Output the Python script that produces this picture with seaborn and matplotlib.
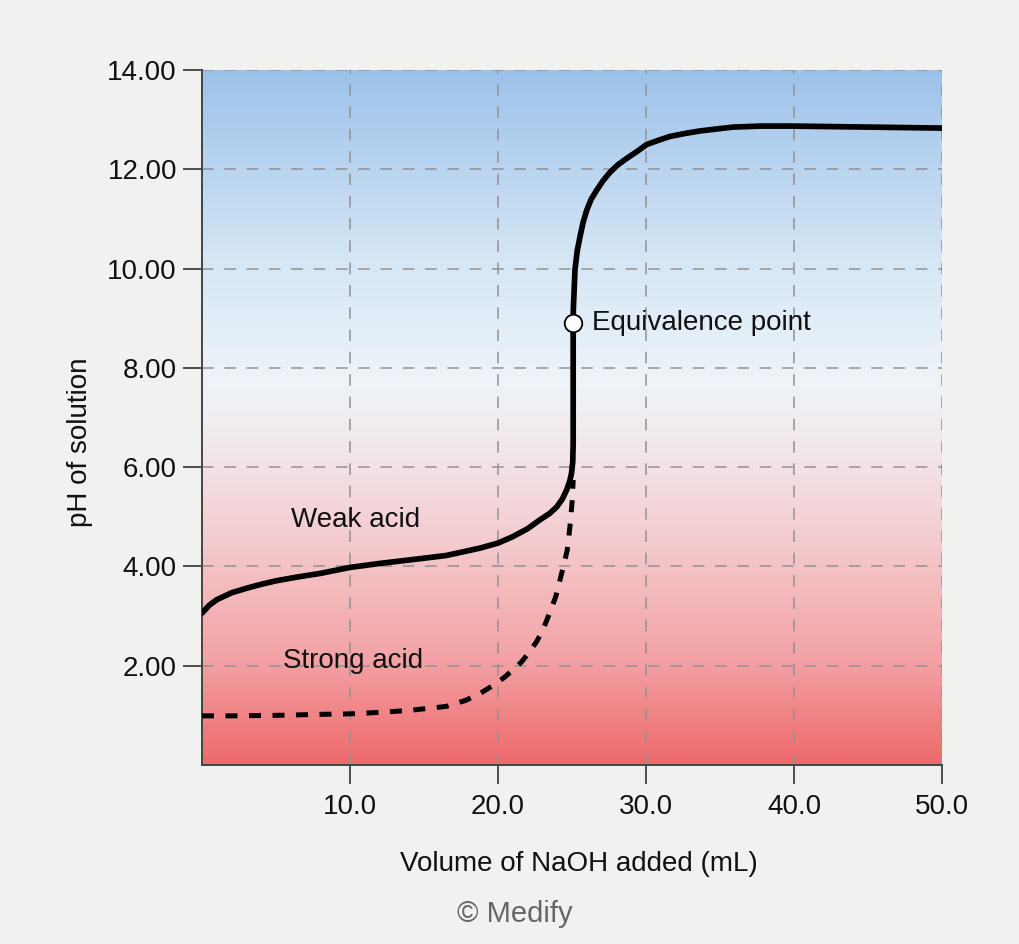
import numpy as np
import pandas as pd
import matplotlib
matplotlib.use("Agg")
import matplotlib.pyplot as plt
from matplotlib.colors import LinearSegmentedColormap
import seaborn as sns

# ---- data ----
weak_volume = [0.0, 0.5, 1.0, 2.0, 3.0, 4.0, 5.0, 6.5, 8.0, 10.0, 12.0, 14.0, 16.5, 18.8,
               20.0, 21.0, 22.0, 22.84, 23.5, 23.97, 24.35, 24.64, 24.85, 24.97, 25.05,
               25.08, 25.08, 25.09, 25.2, 25.35, 25.54, 25.75, 26.0, 26.3, 26.67, 27.1,
               27.57, 28.1, 28.7, 29.4, 30.05, 30.8, 31.6, 32.6, 33.6, 34.7, 35.9, 37.7,
               40.0, 42.5, 45.0, 47.5, 50.0]
weak_ph = [3.06, 3.22, 3.33, 3.47, 3.56, 3.64, 3.71, 3.79, 3.86, 3.98, 4.06, 4.13, 4.22, 4.37,
           4.47, 4.60, 4.76, 4.94, 5.07, 5.20, 5.36, 5.54, 5.72, 5.88, 6.10,
           6.50, 8.90, 9.17, 9.97, 10.35, 10.64, 10.93, 11.18, 11.40, 11.58, 11.77,
           11.94, 12.09, 12.22, 12.36, 12.50, 12.58, 12.66, 12.72, 12.77, 12.81, 12.85, 12.87,
           12.87, 12.86, 12.85, 12.84, 12.83]

strong_volume = [0.0, 2.0, 5.0, 8.0, 10.0, 12.0, 14.0, 16.5, 17.8, 18.78, 19.6, 20.36, 21.0,
                 21.6, 22.1, 22.6, 23.0, 23.3, 23.6, 23.9, 24.1, 24.3, 24.5, 24.68, 24.86,
                 25.02, 25.08]
strong_ph = [0.99, 0.99, 1.00, 1.02, 1.03, 1.06, 1.10, 1.18, 1.30, 1.44, 1.59, 1.75, 1.91,
             2.08, 2.27, 2.48, 2.70, 2.92, 3.15, 3.39, 3.62, 3.86, 4.10, 4.33, 4.80,
             5.34, 5.74]

equiv_volume = [25.08]
equiv_ph = [8.9]

x_ticks = [10, 20, 30, 40, 50]
x_tick_labels = ["10.0", "20.0", "30.0", "40.0", "50.0"]
y_ticks = [2, 4, 6, 8, 10, 12, 14]
y_tick_labels = ["2.00", "4.00", "6.00", "8.00", "10.00", "12.00", "14.00"]

weak_df = pd.DataFrame({"volume": weak_volume, "ph": weak_ph})
strong_df = pd.DataFrame({"volume": strong_volume, "ph": strong_ph})
equiv_df = pd.DataFrame({"volume": equiv_volume, "ph": equiv_ph})

# ---- styling ----
sns.set_theme(style="white")
FONT = ["Liberation Sans", "DejaVu Sans"]
plt.rcParams["font.family"] = FONT
BG = "#f1f1ef"
FS = 20

fig = plt.figure(figsize=(10.2, 9.44), dpi=100, facecolor=BG)
ax = fig.add_axes([202 / 1020, 1 - 765 / 944, 740 / 1020, 695 / 944])
ax.set_facecolor(BG)

# background gradient (pH scale: red acid -> white -> blue base)
cmap = LinearSegmentedColormap.from_list(
    "phgrad",
    [(0.0, "#ee696b"), (0.15, "#f3a2a5"), (0.33, "#f4cdd0"), (0.45, "#f2e6ea"),
     (0.55, "#eef4f9"), (0.72, "#d7e7f5"), (1.0, "#9cc2ea")])
grad = np.linspace(0, 1, 512).reshape(-1, 1)
ax.imshow(grad, extent=[0, 50, 0, 14], origin="lower", aspect="auto",
          cmap=cmap, zorder=0, interpolation="bicubic")

# grid
for v in x_ticks:
    ax.axvline(v, color="#929292", lw=1.1, ls=(0, (7.6, 7)), zorder=1)
for v in y_ticks:
    ax.axhline(v, color="#929292", lw=1.1, ls=(0, (7.6, 7)), zorder=1)

sns.lineplot(data=strong_df, x="volume", y="ph", ax=ax, color="black", lw=3.6,
             linestyle=(0, (2.4, 2.3)), sort=False, zorder=3, estimator=None)
sns.lineplot(data=weak_df, x="volume", y="ph", ax=ax, color="black", lw=4.1,
             sort=False, zorder=4, estimator=None)
sns.scatterplot(data=equiv_df, x="volume", y="ph", ax=ax, s=160, color="white",
                edgecolor="black", linewidth=1.3, zorder=5)

ax.text(10.37, 4.94, "Weak acid", fontsize=FS, ha="center", va="center", color="#111111")
ax.text(10.2, 2.1, "Strong acid", fontsize=FS, ha="center", va="center", color="#111111")
ax.text(26.35, 8.9, "Equivalence point", fontsize=FS, ha="left", va="center", color="#111111")

ax.set_xlim(0, 50)
ax.set_ylim(0, 14)
ax.set_xticks(x_ticks)
ax.set_xticklabels(x_tick_labels)
ax.set_yticks(y_ticks)
ax.set_yticklabels(y_tick_labels)
ax.tick_params(axis="both", which="both", direction="out", length=14, width=1.2,
               color="#333333", labelsize=FS, labelcolor="#111111",
               bottom=True, left=True)
ax.tick_params(axis="x", pad=7)
ax.tick_params(axis="y", pad=4)

for s in ["top", "right"]:
    ax.spines[s].set_visible(False)
for s in ["left", "bottom"]:
    ax.spines[s].set_color("#444444")
    ax.spines[s].set_linewidth(1.4)

ax.set_xlabel("Volume of NaOH added (mL)", fontsize=FS, color="#111111")
ax.set_ylabel("pH of solution", fontsize=FS, color="#111111")
ax.xaxis.set_label_coords(0.509, -0.1424)
ax.yaxis.set_label_coords(-0.1649, 0.4647)
ax.xaxis.label.set_va("center")
ax.yaxis.label.set_va("center")

fig.text(515 / 1020, 1 - 914 / 944, "© Medify", fontsize=21, color="#666666",
         ha="center", va="center")

fig.savefig("out.png", dpi=100, facecolor=BG)
